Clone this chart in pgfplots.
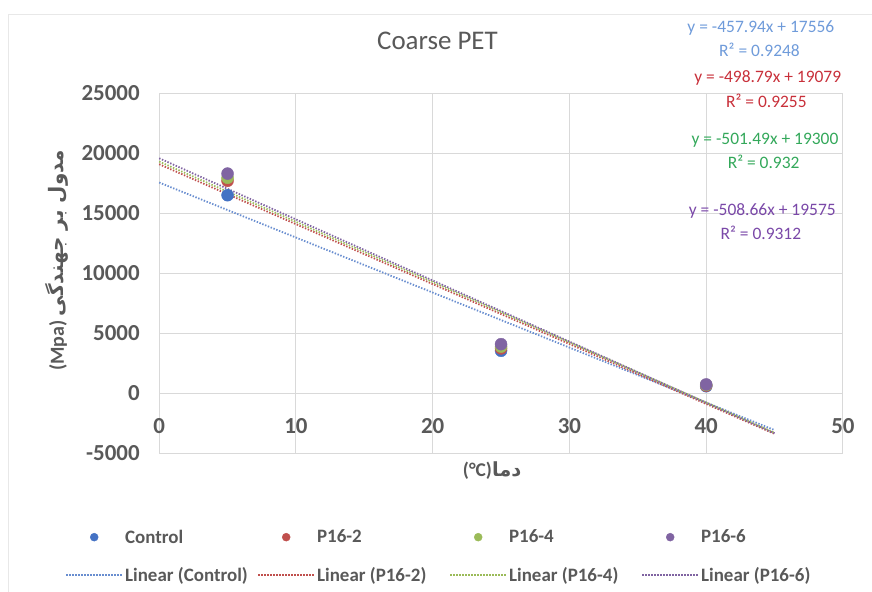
\documentclass[border=0pt]{standalone}
\usepackage{fontspec}
\setmainfont{Carlito}
\newfontfamily\arabicfont[Script=Arabic]{DejaVu Sans}
\TeXXeTstate=1
\usepackage{pgfplots}
\pgfplotsset{compat=1.18}
\definecolor{ctrl}{HTML}{4472C4}
\definecolor{ptwo}{HTML}{C0504D}
\definecolor{pfour}{HTML}{9BBB59}
\definecolor{psix}{HTML}{8064A2}
\definecolor{eqblue}{HTML}{6F9BDA}
\definecolor{eqred}{HTML}{C8303A}
\definecolor{eqgreen}{HTML}{33A85A}
\definecolor{eqpurple}{HTML}{7A48A8}
\definecolor{gridc}{HTML}{D9D9D9}
\definecolor{labc}{HTML}{595959}

\begin{document}
\begin{tikzpicture}
\begin{axis}[
  scale only axis, width=683bp, height=360bp,
  xmin=0, xmax=50, ymin=-5000, ymax=25000,
  xtick={0,10,...,50}, ytick={-5000,0,...,25000},
  scaled y ticks=false,
  grid=major, major grid style={draw=gridc, line width=0.9bp},
  axis line style={draw=none},
  major tick length=0pt,
  tick label style={font=\fontsize{23}{26}\selectfont\bfseries, text=labc},
  /pgf/number format/assume math mode=true,
  /pgf/number format/1000 sep={},
  xticklabel style={yshift=39bp},
  yticklabel style={xshift=-16bp},
  clip=false,
  title={Coarse PET},
  title style={at={(rel axis cs:0.407,1.128)}, anchor=center,
    font=\fontsize{27}{31}\selectfont, text=labc},
  xlabel={\bfseries(°C)\arabicfont\beginR دما\endR},
  xlabel style={at={(rel axis cs:0.487,-0.047)}, anchor=center,
    font=\fontsize{19.5}{22}\selectfont, text=labc},
  ylabel={\bfseries(Mpa) {\arabicfont\beginR مدول بر جهندگی\endR}},
  ylabel style={at={(rel axis cs:-0.149,0.536)}, anchor=center,
    font=\fontsize{20}{23}\selectfont, text=labc},
  legend columns=4,
  legend cell align=left,
  legend style={at={(rel axis cs:-0.142,-0.2)}, anchor=north west,
    draw=none, fill=none, font=\fontsize{19}{22}\selectfont\bfseries, text=labc,
    /tikz/every even column/.append style={column sep=0bp}, row sep=19bp},
  legend image code/.code={\draw[#1, mark size=4bp, mark repeat=2, mark phase=2]
    plot coordinates {(0bp,0bp) (28bp,0bp) (56bp,0bp)};},
]
  % measured points
  \addplot[only marks, mark=*, mark size=6bp, ctrl] coordinates {(5,16500) (25,3550) (40,600)};
  \addlegendentry{Control}
  \addplot[only marks, mark=*, mark size=6bp, ptwo] coordinates {(5,17700) (25,3750) (40,650)};
  \addlegendentry{P16-2}
  \addplot[only marks, mark=*, mark size=6bp, pfour] coordinates {(5,17950) (25,3900) (40,700)};
  \addlegendentry{P16-4}
  \addplot[only marks, mark=*, mark size=6bp, psix] coordinates {(5,18300) (25,4100) (40,750)};
  \addlegendentry{P16-6}
  % trendlines, end points from the printed equations
  \addplot[ctrl!80!white, line width=1.8bp, dash pattern=on 1.4bp off 1.6bp] coordinates {(0,17556) (45,-3051)};
  \addlegendentry{\makebox[130bp][l]{Linear (Control)}}
  \addplot[ptwo, line width=1.8bp, dash pattern=on 1.4bp off 1.6bp] coordinates {(0,19079) (45,-3367)};
  \addlegendentry{\makebox[130bp][l]{Linear (P16-2)}}
  \addplot[pfour, line width=1.8bp, dash pattern=on 1.4bp off 1.6bp] coordinates {(0,19300) (45,-3267)};
  \addlegendentry{\makebox[130bp][l]{Linear (P16-4)}}
  \addplot[psix, line width=1.8bp, dash pattern=on 1.4bp off 1.6bp] coordinates {(0,19575) (45,-3315)};
  \addlegendentry{Linear (P16-6)}

  \begin{scope}[every node/.style={font=\fontsize{17.5}{20}\selectfont, anchor=center}]
    \node[text=eqblue]   at (axis cs:44.0,30420) {y = -457.94x + 17556};
    \node[text=eqblue]   at (axis cs:43.9,28580) {R² = 0.9248};
    \node[text=eqred]    at (axis cs:44.5,26250) {y = -498.79x + 19079};
    \node[text=eqred]    at (axis cs:44.4,24330) {R² = 0.9255};
    \node[text=eqgreen]  at (axis cs:44.3,21080) {y = -501.49x + 19300};
    \node[text=eqgreen]  at (axis cs:44.2,19250) {R² = 0.932};
    \node[text=eqpurple] at (axis cs:44.1,15170) {y = -508.66x + 19575};
    \node[text=eqpurple] at (axis cs:44.0,13330) {R² = 0.9312};
  \end{scope}

  \draw[gray!18, line width=0.8bp] (rel axis cs:-0.2211,-0.3833) -- (rel axis cs:-0.2211,1.2194) -- (rel axis cs:1.0425,1.2194);
  \coordinate (bbsw) at (rel axis cs:-0.2328,-0.3833);
  \coordinate (bbne) at (rel axis cs:1.0425,1.2583);
\end{axis}
\pgfresetboundingbox
\useasboundingbox (bbsw) rectangle (bbne);
\end{tikzpicture}
\end{document}
